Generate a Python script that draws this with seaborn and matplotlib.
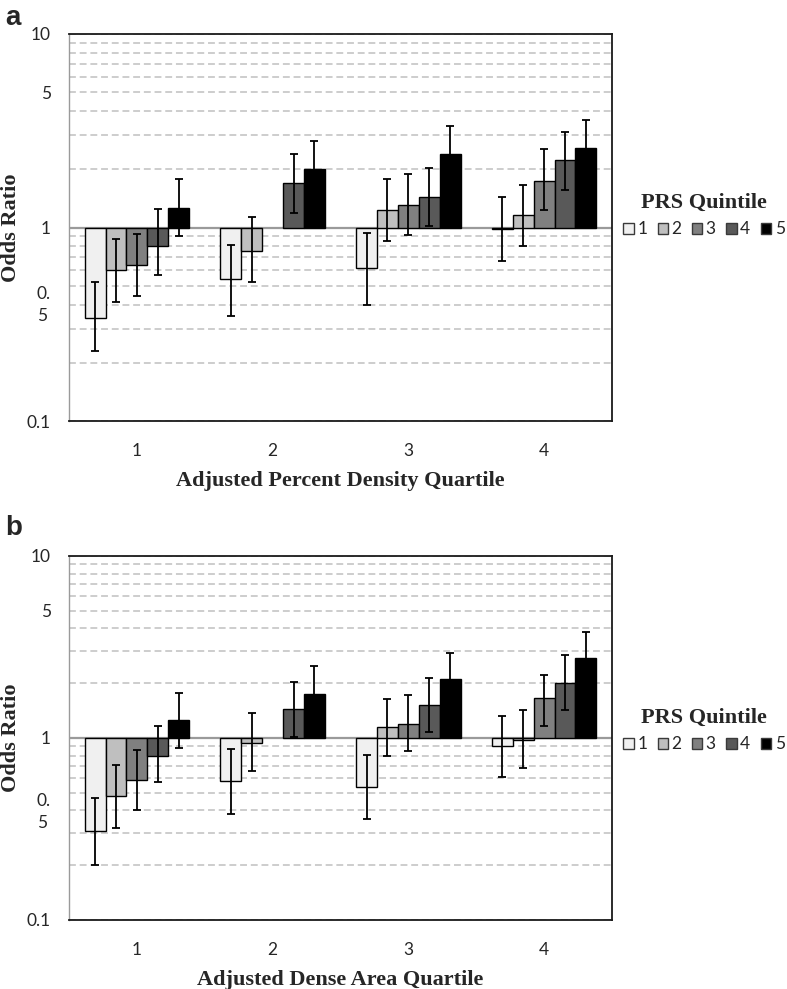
import numpy as np
import pandas as pd
import seaborn as sns
import matplotlib.pyplot as plt
from matplotlib.ticker import FixedLocator, LogLocator, NullFormatter
from matplotlib.patches import Patch

quartiles = ["1", "2", "3", "4"]
quintiles = ["1", "2", "3", "4", "5"]
colors = ["#f0f0f0", "#bfbfbf", "#808080", "#595959", "#000000"]
nan = np.nan

# odds ratios, rows = density quartile, cols = PRS quintile (ref = quartile 2 / quintile 3)
or_a = [[0.34, 0.60, 0.64, 0.80, 1.26],
        [0.54, 0.76, 1.00, 1.70, 2.00],
        [0.62, 1.23, 1.31, 1.44, 2.41],
        [0.98, 1.16, 1.74, 2.22, 2.58]]
lo_a = [[0.23, 0.41, 0.44, 0.57, 0.90],
        [0.35, 0.52, nan, 1.19, 1.42],
        [0.40, 0.85, 0.91, 1.02, 1.73],
        [0.67, 0.80, 1.23, 1.57, 1.86]]
hi_a = [[0.52, 0.87, 0.93, 1.25, 1.79],
        [0.81, 1.13, nan, 2.40, 2.81],
        [0.94, 1.79, 1.88, 2.04, 3.34],
        [1.44, 1.66, 2.53, 3.10, 3.59]]

or_b = [[0.31, 0.48, 0.59, 0.80, 1.25],
        [0.58, 0.94, 1.00, 1.44, 1.75],
        [0.54, 1.15, 1.20, 1.51, 2.11],
        [0.90, 0.97, 1.66, 2.01, 2.74]]
lo_b = [[0.20, 0.32, 0.40, 0.57, 0.88],
        [0.38, 0.66, nan, 1.01, 1.24],
        [0.36, 0.80, 0.85, 1.08, 1.50],
        [0.61, 0.68, 1.17, 1.43, 1.96]]
hi_b = [[0.47, 0.71, 0.86, 1.16, 1.77],
        [0.87, 1.38, nan, 2.04, 2.48],
        [0.81, 1.64, 1.72, 2.13, 2.94],
        [1.32, 1.43, 2.23, 2.84, 3.82]]

ytick_vals = [0.1, 0.5, 1, 5, 10]
ytick_labels = ["0.1", "0.\n5", "1", "5", "10"]

sns.set_style("white")
plt.rcParams['font.family'] = ['Lato', 'DejaVu Sans']

serif_bold = dict(family='Liberation Serif', weight='bold', size=16)
W, H = 787, 989
fig = plt.figure(figsize=(W / 100, H / 100), dpi=100)

BAR_W = 0.77


def panel(rect, ors, los, his, xlabel, letter, letter_y, leg_y, xlab_y):
    ax = fig.add_axes(rect)
    rows = []
    for i, q in enumerate(quartiles):
        for j, p in enumerate(quintiles):
            # bars hang from OR = 1, the reference cell has no bar
            h = ors[i][j] - 1 if not np.isnan(los[i][j]) else nan
            rows.append(dict(quartile=q, prs=p, height=h))
    df = pd.DataFrame(rows)
    sns.barplot(data=df, x="quartile", y="height", hue="prs", order=quartiles,
                hue_order=quintiles, palette=colors, width=BAR_W, errorbar=None,
                bottom=1, edgecolor="black", linewidth=1.0, legend=False,
                zorder=3, ax=ax)
    ax.set_yscale('log')
    ax.set_ylim(0.1, 10)
    ax.set_xlim(-0.5, 3.5)

    # confidence intervals
    for i in range(4):
        for j in range(5):
            if np.isnan(los[i][j]):
                continue
            x = i + (j - 2) * BAR_W / 5
            v = ors[i][j]
            ax.errorbar(x, v, yerr=[[v - los[i][j]], [his[i][j] - v]], fmt='none',
                        ecolor='black', elinewidth=1.3, capsize=3, capthick=1.3,
                        zorder=4)

    ax.yaxis.set_major_locator(FixedLocator(ytick_vals))
    ax.yaxis.set_minor_locator(LogLocator(base=10, subs=range(2, 10)))
    ax.yaxis.set_minor_formatter(NullFormatter())
    ax.set_yticklabels(ytick_labels)
    ax.grid(False)
    ax.yaxis.grid(True, which='both', color='#c0c0c0', linestyle=(0, (4.5, 2.5)),
                  linewidth=1.1, zorder=0)
    ax.set_axisbelow(True)
    ax.axhline(1, color='#9a9a9a', lw=1.6, zorder=2)

    ax.tick_params(axis='y', which='major', length=5, width=1, color='#9a9a9a',
                   pad=8, labelsize=12.5)
    ax.tick_params(axis='y', which='minor', length=0)
    ax.tick_params(axis='x', length=0, pad=16, labelsize=12.5)
    for lab in ax.get_yticklabels():
        if '\n' in lab.get_text():
            lab.set_verticalalignment('top')
            lab.set_multialignment('left')
            lab.set_linespacing(1.45)

    for side in ['top', 'right', 'bottom']:
        ax.spines[side].set_color('#1a1a1a')
        ax.spines[side].set_linewidth(1.3)
    ax.spines['left'].set_color('#9a9a9a')
    ax.spines['left'].set_linewidth(1.0)

    ax.set_xlabel(xlabel, fontdict=serif_bold)
    ax.xaxis.set_label_coords(0.5, xlab_y)
    ax.set_ylabel("")
    pos = ax.get_position()
    fig.text(11 / W, pos.y0 + pos.height / 2, "Odds Ratio", rotation=90,
             ha='center', va='center', **serif_bold)
    fig.text(5 / W, letter_y, letter, family='Liberation Sans', weight='bold',
             size=20, ha='left', va='baseline')

    handles = [Patch(facecolor=c, edgecolor='#3a3a3a', linewidth=1.0) for c in colors]
    ax.legend(handles, quintiles, title="PRS Quintile", ncol=5, loc='center',
              bbox_to_anchor=(704 / W, leg_y), bbox_transform=fig.transFigure,
              frameon=False, handlelength=0.6, handleheight=0.6, handletextpad=0.2,
              columnspacing=0.6, prop=dict(size=12.5),
              title_fontproperties=serif_bold)
    return ax


panel([69 / W, 1 - 421 / H, 543 / W, 387 / H], or_a, lo_a, hi_a,
      "Adjusted Percent Density Quartile", "a", 1 - 25 / H, 1 - 215 / H, -0.128)
panel([69 / W, 1 - 920 / H, 543 / W, 364 / H], or_b, lo_b, hi_b,
      "Adjusted Dense Area Quartile", "b", 1 - 535 / H, 1 - 730 / H, -0.136)

fig.savefig("out.png", dpi=100)
